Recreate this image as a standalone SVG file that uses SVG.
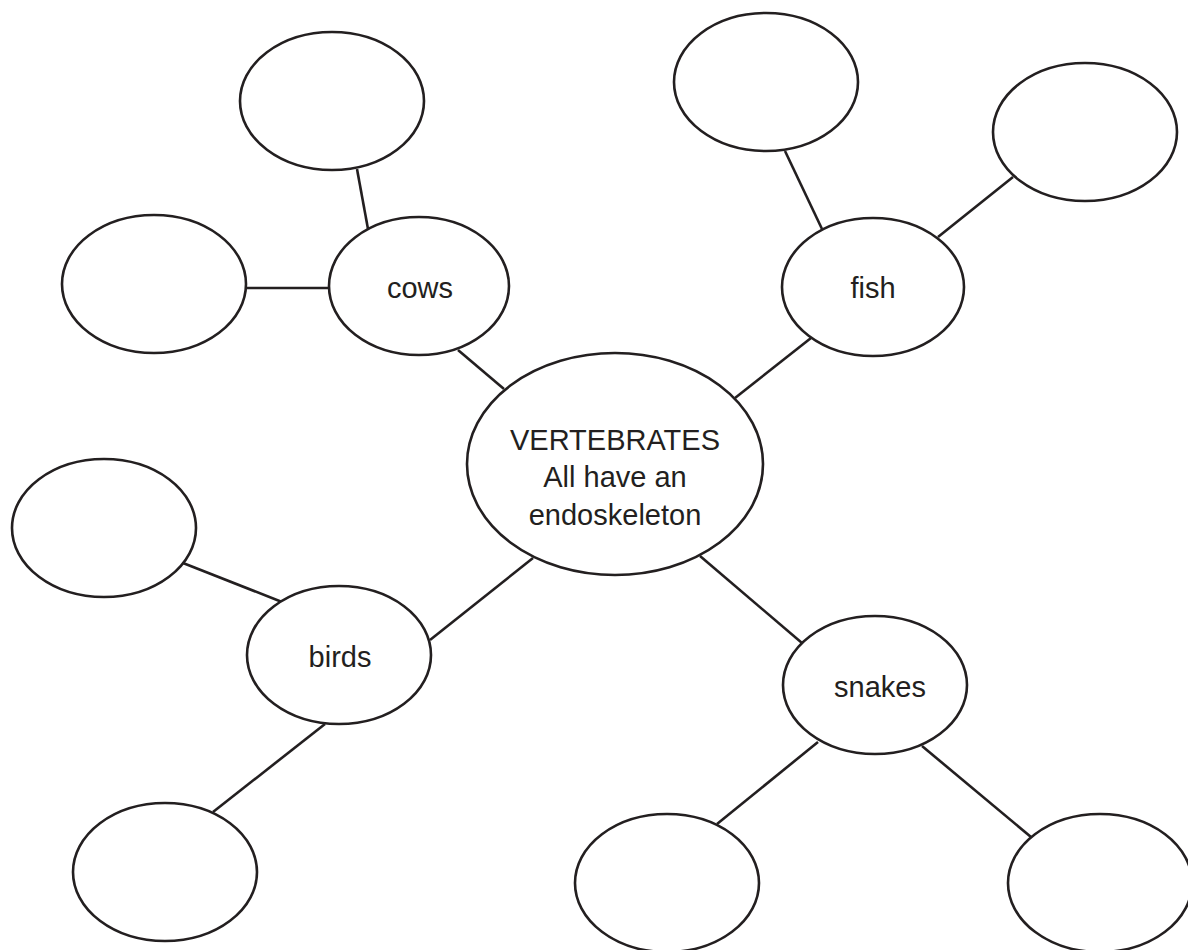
<svg xmlns="http://www.w3.org/2000/svg" width="1188" height="950" viewBox="0 0 1188 950">
  <style>
    .bubble { fill: #ffffff; stroke: #231f20; stroke-width: 2.6; }
    .link { stroke: #231f20; stroke-width: 2.6; fill: none; }
    .label { font-family: "Liberation Sans", Arial, sans-serif; font-size: 29px; fill: #231f20; text-anchor: middle; }
  </style>
  <rect width="1188" height="950" fill="#ffffff"/>

  <!-- connectors -->
  <g id="connectors">
    <line class="link" x1="357" y1="169" x2="368" y2="229"/>
    <line class="link" x1="246" y1="288" x2="329" y2="288"/>
    <line class="link" x1="458" y1="350" x2="504" y2="389"/>
    <line class="link" x1="785" y1="151" x2="822" y2="229"/>
    <line class="link" x1="1013" y1="177" x2="938" y2="237"/>
    <line class="link" x1="811" y1="338" x2="735" y2="398"/>
    <line class="link" x1="183" y1="563" x2="282" y2="602"/>
    <line class="link" x1="430" y1="640" x2="533" y2="558"/>
    <line class="link" x1="325" y1="724" x2="213" y2="812"/>
    <line class="link" x1="700" y1="556" x2="802" y2="643"/>
    <line class="link" x1="818" y1="742" x2="717" y2="824"/>
    <line class="link" x1="922" y1="746" x2="1031" y2="837"/>
  </g>

  <!-- central concept -->
  <g id="vertebrates">
    <ellipse class="bubble" cx="615" cy="464" rx="148" ry="111"/>
    <text class="label" x="615" y="450">VERTEBRATES</text>
    <text class="label" x="615" y="487">All have an</text>
    <text class="label" x="615" y="525">endoskeleton</text>
  </g>

  <!-- groups -->
  <g id="cows">
    <ellipse class="bubble" cx="419" cy="286" rx="90" ry="69"/>
    <text class="label" x="420" y="298">cows</text>
  </g>
  <g id="fish">
    <ellipse class="bubble" cx="873" cy="287" rx="91" ry="69"/>
    <text class="label" x="873" y="298">fish</text>
  </g>
  <g id="birds">
    <ellipse class="bubble" cx="339" cy="655" rx="92" ry="69"/>
    <text class="label" x="340" y="667">birds</text>
  </g>
  <g id="snakes">
    <ellipse class="bubble" cx="875" cy="685" rx="92" ry="69"/>
    <text class="label" x="880" y="697">snakes</text>
  </g>

  <!-- empty bubbles -->
  <g id="cows-top"><ellipse class="bubble" cx="332" cy="101" rx="92" ry="69"/></g>
  <g id="cows-left"><ellipse class="bubble" cx="154" cy="284" rx="92" ry="69"/></g>
  <g id="fish-top"><ellipse class="bubble" cx="766" cy="82" rx="92" ry="69"/></g>
  <g id="fish-right"><ellipse class="bubble" cx="1085" cy="132" rx="92" ry="69"/></g>
  <g id="birds-left"><ellipse class="bubble" cx="104" cy="528" rx="92" ry="69"/></g>
  <g id="birds-bottom"><ellipse class="bubble" cx="165" cy="872" rx="92" ry="69"/></g>
  <g id="snakes-left"><ellipse class="bubble" cx="667" cy="883" rx="92" ry="69"/></g>
  <g id="snakes-right"><ellipse class="bubble" cx="1100" cy="883" rx="92" ry="69"/></g>
</svg>
